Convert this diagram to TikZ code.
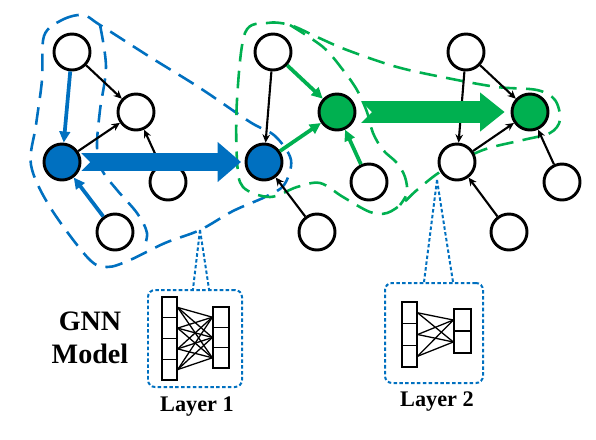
\documentclass[tikz,border=0pt]{standalone}
\usepackage{fontspec}
\setmainfont{Liberation Serif}
\usetikzlibrary{arrows.meta,calc}

\definecolor{gnnblue}{HTML}{0070C0}
\definecolor{gnngreen}{HTML}{00B050}

\tikzstyle{vertex}=[circle,draw=black,line width=2.5pt,fill=white,minimum size=1.08cm,inner sep=0pt]
\tikzstyle{bluev}=[vertex,fill=gnnblue]
\tikzstyle{greenv}=[vertex,fill=gnngreen]
\tikzstyle{edge}=[-{Stealth[length=7pt,width=6.5pt]},line width=1.8pt]
\tikzstyle{bluee}=[-{Triangle[length=9.5pt,width=9pt]},line width=3.2pt,gnnblue]
\tikzstyle{greene}=[-{Triangle[length=9.5pt,width=9pt]},line width=3.2pt,gnngreen]
\tikzstyle{hull}=[line width=2.2pt,dash pattern=on 15pt off 8pt]
\tikzstyle{zoombox}=[draw=gnnblue,line width=1.7pt,dash pattern=on 3pt off 2pt,rounded corners=6pt,inner sep=0pt]
\tikzstyle{funnel}=[gnnblue,line width=1.7pt,dash pattern=on 3pt off 2pt]
\tikzstyle{cell}=[draw,line width=1.1pt,inner sep=0pt,fill=white]
\tikzstyle{layertext}=[font=\fontsize{19}{22}\selectfont\bfseries]

\begin{document}
\begin{tikzpicture}[x=0.03cm,y=-0.03cm]
    \useasboundingbox (0,0) rectangle (596,439);
    %Hulls
    \draw[hull,gnnblue] plot[smooth cycle,tension=0.55] coordinates {
        (44,36) (62,20) (83,15) (100,25) (150,57) (200,88) (250,122)
        (275,136) (291,160) (284,185) (265,197) (233,211) (200,230)
        (165,243) (130,260) (107,267) (88,258) (50,207) (31,165) (36,125) (42,80)};
    \draw[hull,gnnblue] plot[smooth,tension=0.55] coordinates {
        (100,25) (106,67) (100,110) (97,147) (102,170) (117,190) (137,213) (147,233) (143,250)};
    \draw[hull,gnngreen] plot[smooth cycle,tension=0.55] coordinates {
        (245,33) (267,23) (290,25) (317,37) (347,50) (397,67) (447,78) (497,87)
        (537,90) (555,100) (560,120) (550,133) (523,140) (483,150) (443,170)
        (417,190) (403,203) (387,213) (370,212) (343,197) (320,183) (297,187)
        (270,197) (243,187) (237,160) (237,100)};
    \draw[hull,gnngreen] plot[smooth,tension=0.55] coordinates {
        (290,25) (323,47) (343,70) (357,90) (367,112) (373,133) (383,150)
        (397,163) (405,177) (407,193) (400,205)};
    %Plain nodes
    \foreach \pos/\name in {{(72,52)/a1}, {(136,112)/a2}, {(168,182)/a4}, {(115,232)/a5},
                             {(273,52)/b1}, {(369,182)/b4}, {(317,232)/b5},
                             {(466,52)/c1}, {(457,162)/c3}, {(562,182)/c4}, {(509,232)/c5}}
    \node[vertex] (\name) at \pos {};
    %Updated nodes
    \node[bluev] (a3) at (62,162) {};
    \node[bluev] (b3) at (264,162) {};
    \node[greenv] (b2) at (337,112) {};
    \node[greenv] (c2) at (530,112) {};
    %Edges
    \foreach \u/\v in {a1/a2, a3/a2, a4/a2, b1/b3, b5/b3, c1/c3, c1/c2, c3/c2, c4/c2, c5/c3}
    \draw[edge] (\u) -- (\v);
    \draw[bluee] (a1) -- (a3);
    \draw[bluee] (a5) -- (a3);
    \draw[greene] (b1) -- (b2);
    \draw[greene] (b3) -- (b2);
    \draw[greene] (b4) -- (b2);
    %Layer arrows
    \draw[gnnblue,line width=15pt,{Triangle Cap[reversed]}-{Triangle[length=20pt,width=33pt]},shorten >=3pt] (a3) -- (b3);
    \draw[gnngreen,line width=18.5pt,{Triangle Cap[reversed]}-{Triangle[length=21pt,width=32pt]},shorten <=4pt,shorten >=5pt] (b2) -- (c2);
    %Zoom boxes
    \node[zoombox,minimum width=2.82cm,minimum height=2.91cm] (box1) at (195,338.5) {};
    \node[zoombox,minimum width=2.94cm,minimum height=3cm] (box2) at (434,333) {};
    \coordinate (tip1) at (200,230);
    \coordinate (tip2) at (437,180);
    \draw[funnel] (tip1) -- ($(box1.north)+(-2,0)$);
    \draw[funnel] (tip1) -- ($(box1.north)+(14,0)$);
    \draw[funnel] (tip2) -- ($(box2.north)+(-10,0)$);
    \draw[funnel] (tip2) -- ($(box2.north)+(19,0)$);
    %Layer 1 net
    \foreach \i/\y in {1/307.4, 2/328.1, 3/348.9, 4/369.6}
    \node[cell,minimum width=0.45cm,minimum height=0.62cm] (p\i) at (169.5,\y) {};
    \foreach \j/\y in {1/317.2, 2/337.5, 3/357.8}
    \node[cell,minimum width=0.48cm,minimum height=0.61cm] (q\j) at (221,\y) {};
    \foreach \i in {1,...,4}
    \foreach \j in {1,...,3}
    \draw[line width=1.1pt] (p\i.east) -- (q\j.west);
    %Layer 2 net
    \foreach \i/\y in {1/312.8, 2/334.5, 3/356.2}
    \node[cell,minimum width=0.45cm,minimum height=0.65cm] (s\i) at (409.5,\y) {};
    \foreach \j/\y in {1/320, 2/342}
    \node[cell,minimum width=0.51cm,minimum height=0.66cm] (t\j) at (462.5,\y) {};
    \foreach \i in {1,...,3}
    \foreach \j in {1,2}
    \draw[line width=1.1pt] (s\i.east) -- (t\j.west);
    %Labels
    \node[font=\fontsize{24}{28}\selectfont\bfseries,align=center] (gnn) at (90,338) {GNN\\Model};
    \node[layertext] (lay1) at (197,407) {Layer 1};
    \node[layertext] (lay2) at (437,402) {Layer 2};
\end{tikzpicture}
\end{document}
